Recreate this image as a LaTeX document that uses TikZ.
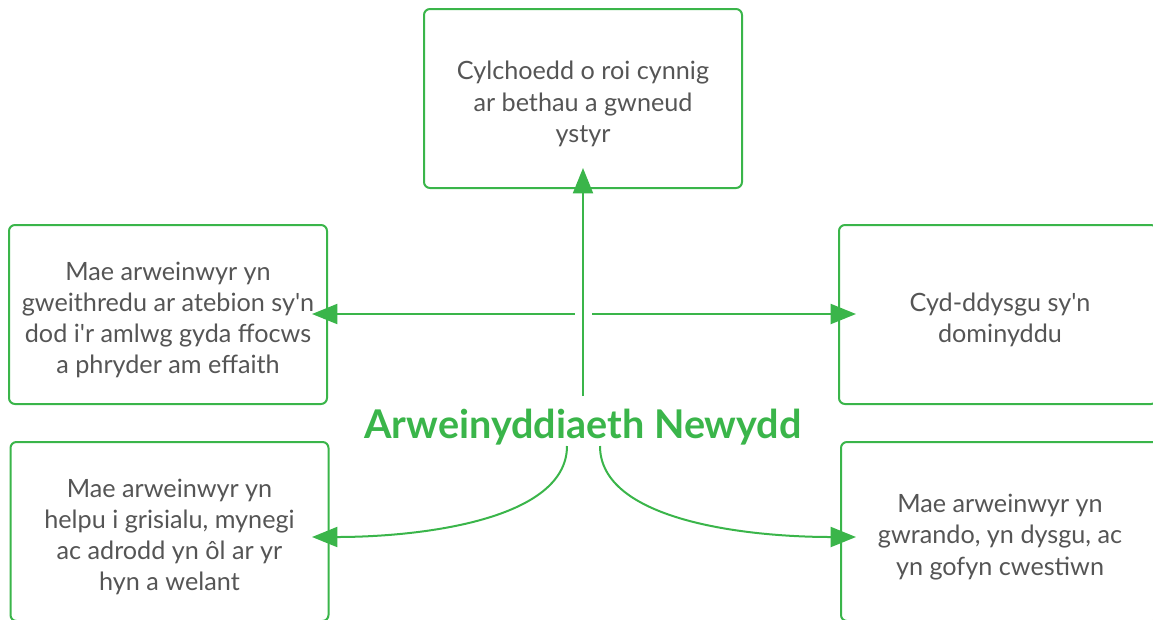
\documentclass[tikz,border=0pt]{standalone}
\usepackage{fontspec}
\setmainfont{Lato}[Ligatures=TeXOff]
\usetikzlibrary{arrows.meta}
\definecolor{lgreen}{HTML}{3AB54A}
\definecolor{tgray}{HTML}{555555}
\begin{document}
\begin{tikzpicture}[x=0.75pt,y=-0.75pt,
  box/.style={draw=lgreen, line width=1.5pt, rounded corners=4.5pt,
    minimum width=238.5pt, minimum height=134.25pt, inner sep=0pt},
  txt/.style={align=center, text=tgray, font=\fontsize{18.9}{23.4}\selectfont, inner sep=0pt},
  title/.style={text=lgreen, font=\fontsize{29.7}{34}\selectfont\bfseries, inner sep=0pt},
  conn/.style={draw=lgreen, line width=1.5pt, -{Triangle[length=19pt,width=15pt]}}]
\useasboundingbox (0,0) rectangle (1153,619);
\node[box] (top) at (583,98.5) {};
\node[box] (lt) at (168,314.5) {};
\node[box] (rt) at (998,314.5) {};
\node[box] (lb) at (169.5,531.5) {};
\node[box] (rb) at (1000,531.5) {};
\node[txt] (toptxt) at (583,104) {Cylchoedd o roi cynnig\\ar bethau a gwneud\\ystyr};
\node[txt] (lttxt) at (168,320) {Mae arweinwyr yn\\gweithredu ar atebion sy'n\\dod i'r amlwg gyda ffocws\\a phryder am effaith};
\node[txt] (rttxt) at (1000,320) {Cyd-ddysgu sy'n\\dominyddu};
\node[txt] (lbtxt) at (169.5,537) {Mae arweinwyr yn\\helpu i grisialu, mynegi\\ac adrodd yn ôl ar yr\\hyn a welant};
\node[txt] (rbtxt) at (1000,537) {Mae arweinwyr yn\\gwrando, yn dysgu, ac\\yn gofyn cwestiwn};
\node[title] (c) at (583,427) {Arweinyddiaeth Newydd};
\coordinate (vs) at (583,396);
\coordinate (vt) at (583,168);
\coordinate (hls) at (575,314);
\coordinate (hlt) at (312,314);
\coordinate (hrs) at (592,314);
\coordinate (hrt) at (856,314);
\coordinate (cls) at (567,446);
\coordinate (clt) at (312,537);
\coordinate (crs) at (600,446);
\coordinate (crt) at (856,537);
\draw[conn] (vs) -- (vt);
\draw[conn] (hls) -- (hlt);
\draw[conn] (hrs) -- (hrt);
\draw[conn] (cls) .. controls (567,520) and (420,537) .. (clt);
\draw[conn] (crs) .. controls (600,520) and (745,537) .. (crt);
\end{tikzpicture}
\end{document}
